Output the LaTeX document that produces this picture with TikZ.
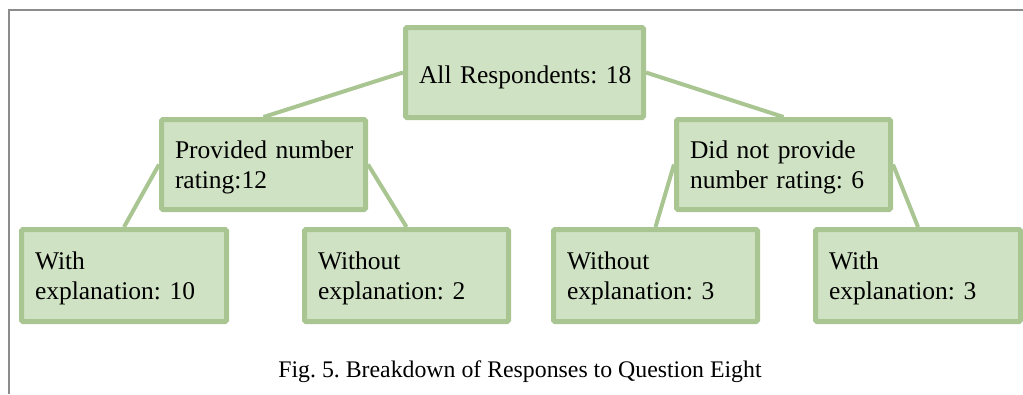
\documentclass[tikz,border=0pt]{standalone}
\usepackage{fontspec}
\setmainfont{Liberation Serif}
\frenchspacing
\definecolor{boxborder}{RGB}{169,197,146}
\definecolor{boxfill}{RGB}{208,226,196}
\definecolor{framegray}{RGB}{140,140,140}
\begin{document}
\begin{tikzpicture}[x=1pt,y=-1pt,
  box/.style={draw=boxborder, fill=boxfill, line width=5pt, rounded corners=1.5pt,
    inner xsep=13.5pt, inner ysep=0pt, align=left,
    font=\fontsize{25.5}{30}\selectfont\frenchspacing},
  twoline/.style={text height=17.5pt, text depth=30pt},
  link/.style={draw=boxborder, line width=4pt}]
\useasboundingbox (0,0) rectangle (1023,394);
\draw[framegray, line width=2pt] (9,394) -- (9,10) -- (1023,10);
% nodes
\node[box, minimum width=238pt, minimum height=90pt, text width=211pt, text height=21pt, text depth=0pt] (root) at (524.5,72.5) {\mbox{All Respondents: 18}};
\node[box, twoline, minimum width=204pt, minimum height=90pt, text width=177pt] (prov) at (263.5,164.5) {\mbox{Provided number}\\\mbox{rating:12}};
\node[box, twoline, minimum width=214pt, minimum height=90pt, text width=187pt] (notprov) at (783.5,164.5) {\mbox{Did not provide}\\\mbox{number rating: 6}};
\node[box, twoline, minimum width=205pt, minimum height=92pt, text width=178pt] (with10) at (124,275.5) {\mbox{With}\\\mbox{explanation: 10}};
\node[box, twoline, minimum width=204pt, minimum height=92pt, text width=177pt] (without2) at (406.5,275.5) {\mbox{Without}\\\mbox{explanation: 2}};
\node[box, twoline, minimum width=204pt, minimum height=92pt, text width=177pt] (without3) at (655.5,275.5) {\mbox{Without}\\\mbox{explanation: 3}};
\node[box, twoline, minimum width=205pt, minimum height=92pt, text width=178pt] (with3) at (918,275.5) {\mbox{With}\\\mbox{explanation: 3}};
% connectors
\draw[link] (root.west) -- (prov.north);
\draw[link] (root.east) -- (notprov.north);
\draw[link] (prov.west) -- (with10.north);
\draw[link] (prov.east) -- (without2.north);
\draw[link] (notprov.west) -- (without3.north);
\draw[link] (notprov.east) -- (with3.north);
% caption
\node[anchor=base, inner sep=0pt, font=\fontsize{23.8}{28}\selectfont\frenchspacing] (caption) at (520,377) {Fig. 5. Breakdown of Responses to Question Eight};
\end{tikzpicture}
\end{document}
